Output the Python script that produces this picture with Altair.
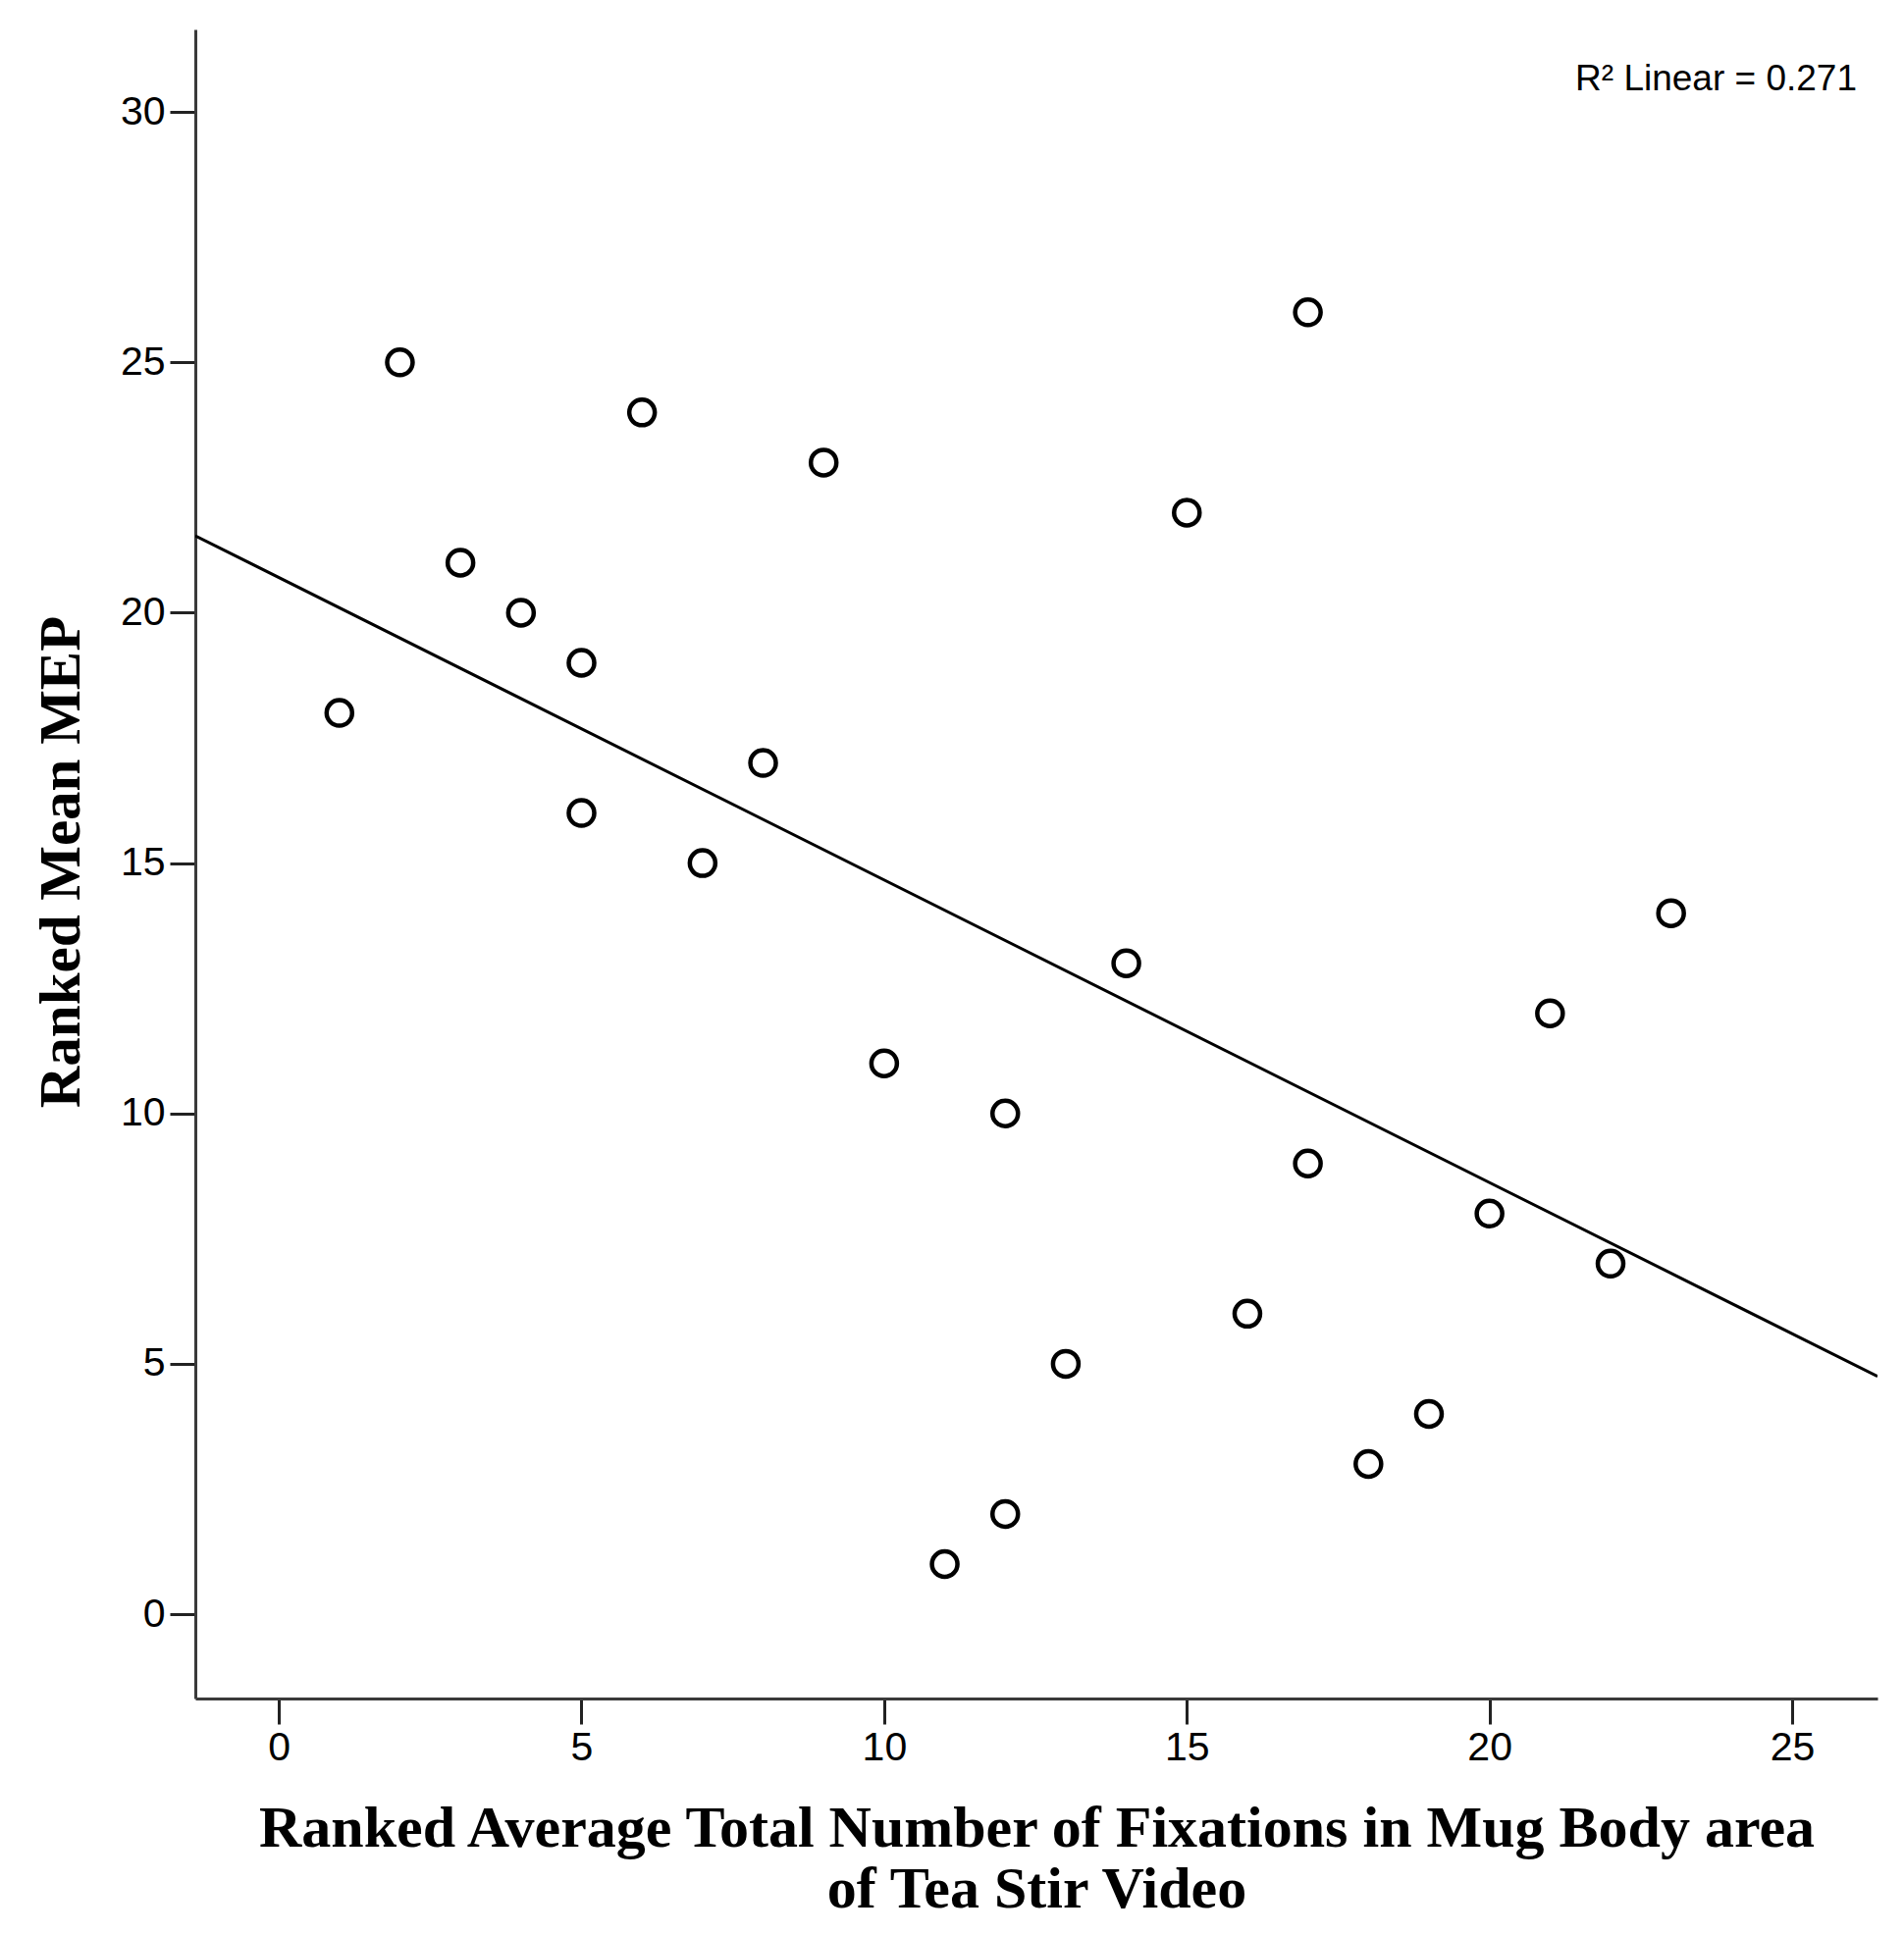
import altair as alt
import numpy as np
import pandas as pd

# Data
rank_fix = [1, 2, 3, 4, 5, 5, 6, 7, 8, 9, 10, 11, 12, 12, 13, 14, 15, 16, 17, 17, 18, 19, 20, 21, 22, 23]
rank_mep = [18, 25, 21, 20, 19, 16, 24, 15, 17, 23, 11, 1, 10, 2, 5, 13, 22, 6, 26, 9, 3, 4, 8, 12, 7, 14]
x_ticks = [0, 5, 10, 15, 20, 25]
y_ticks = [0, 5, 10, 15, 20, 25, 30]
x_title = ["Ranked Average Total Number of Fixations in Mug Body area", "of Tea Stir Video"]
y_title = "Ranked Mean MEP"
x_domain = [-1.38, 26.41]
y_domain = [-1.685, 31.65]

r2 = np.corrcoef(rank_fix, rank_mep)[0, 1] ** 2
r2_label = f"R\u00b2 Linear = {r2:.3f}"

df = pd.DataFrame({"fix": rank_fix, "mep": rank_mep})

xscale = alt.Scale(domain=x_domain, nice=False, zero=False)
yscale = alt.Scale(domain=y_domain, nice=False, zero=False)

common_axis = dict(
    grid=False,
    domainColor="#3a3a3a",
    domainWidth=3,
    tickColor="#222222",
    tickWidth=3,
    tickSize=26,
    labelFont="Liberation Sans",
    labelFontSize=41,
    labelColor="black",
    labelFlush=False,
    titleFont="Liberation Serif",
    titleFontWeight="bold",
    titleColor="black",
)

xaxis = alt.Axis(
    values=x_ticks,
    title=x_title,
    labelPadding=4,
    titleFontSize=60,
    titleY=150,
    titleBaseline="alphabetic",
    titleLineHeight=62,
    **common_axis,
)
yaxis = alt.Axis(
    values=y_ticks,
    title=y_title,
    labelPadding=5,
    titleFontSize=59,
    titleX=-119,
    titleY=848,
    titleAngle=270,
    titleAlign="center",
    titleBaseline="alphabetic",
    **common_axis,
)

base = alt.Chart(df).encode(
    x=alt.X("fix:Q", scale=xscale, axis=xaxis),
    y=alt.Y("mep:Q", scale=yscale, axis=yaxis),
)

points = base.mark_point(shape="circle", filled=False, color="black", size=676, strokeWidth=4.5, opacity=1)

line = base.transform_regression("fix", "mep", extent=x_domain).mark_line(
    color="black", strokeWidth=3, clip=True
)

text = alt.Chart(pd.DataFrame({"t": [r2_label]})).mark_text(
    align="right", baseline="alphabetic", font="Liberation Sans", fontSize=37, color="black"
).encode(x=alt.value(1693), y=alt.value(62), text="t:N")

chart = (
    alt.layer(points, line, text)
    .properties(
        width=1714,
        height=1701,
        padding={"left": 191, "top": 22, "right": 10, "bottom": 230},
        autosize=alt.AutoSizeParams(type="none"),
        background="white",
    )
    .configure_view(stroke=None)
)

chart.save("out.html", embed_options={"renderer": "svg", "actions": False})
